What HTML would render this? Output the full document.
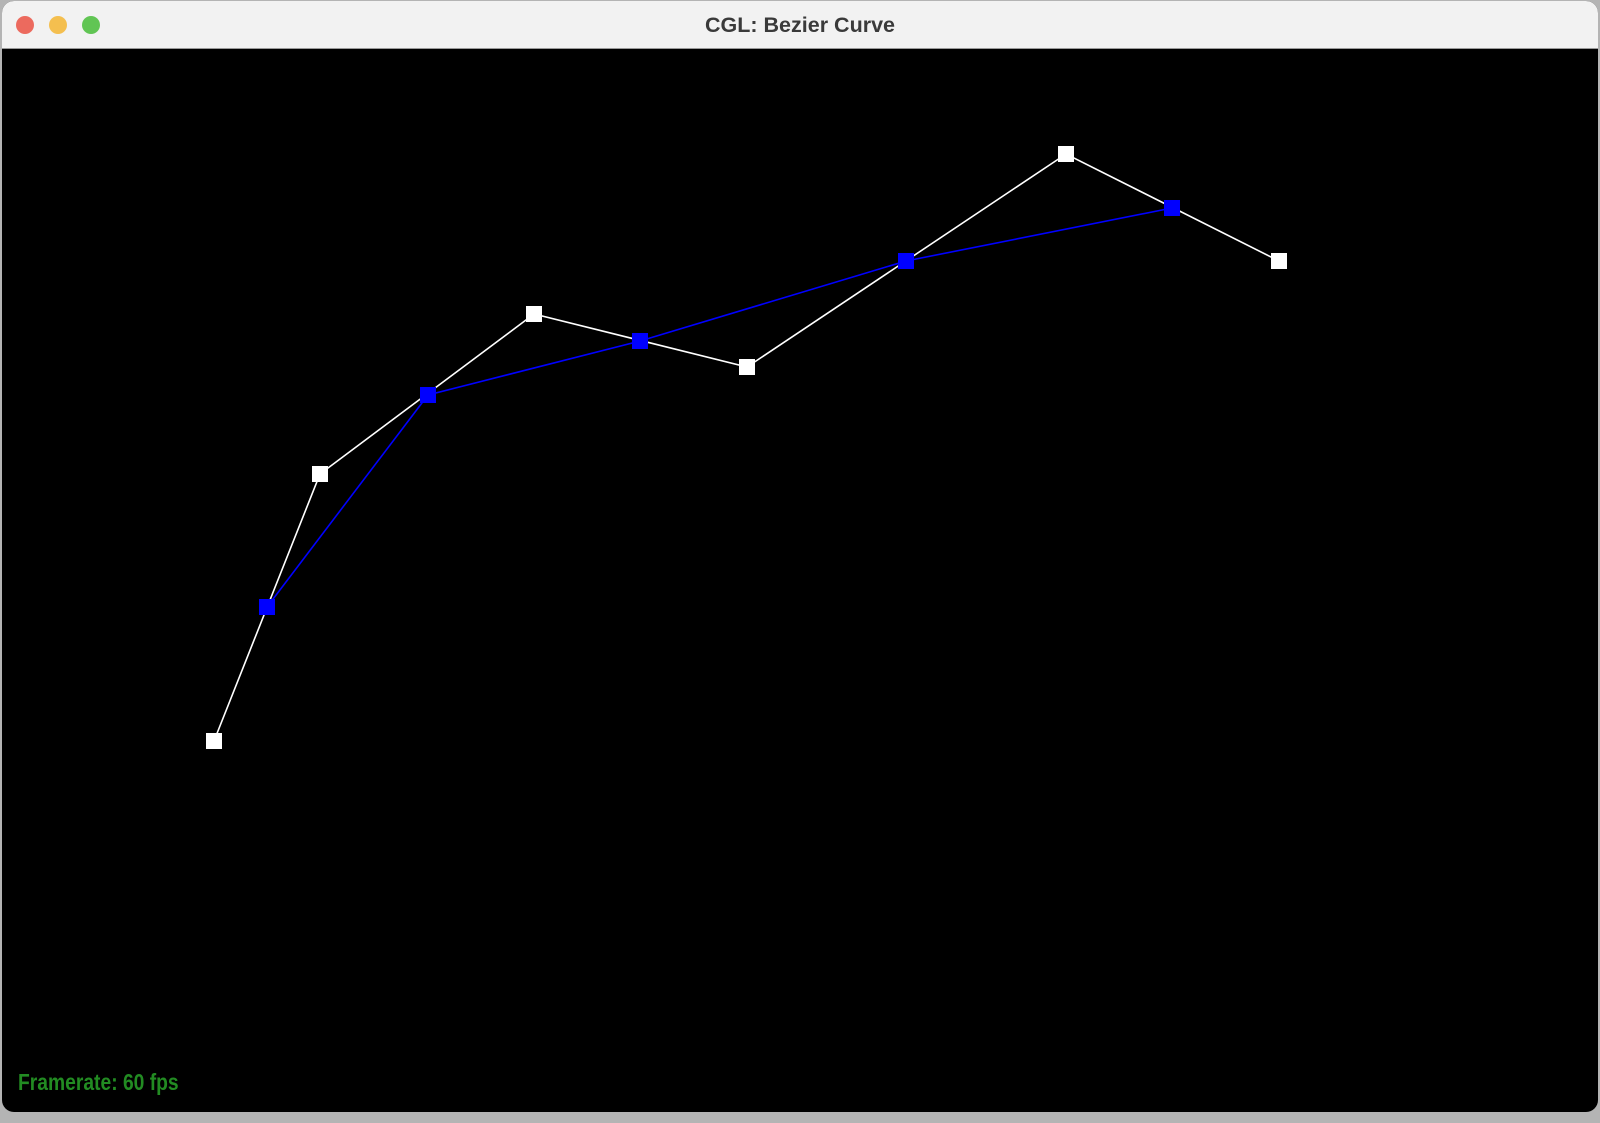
<!DOCTYPE html>
<html><head><meta charset="utf-8"><style>
html,body{margin:0;padding:0;width:1600px;height:1123px;overflow:hidden;background:#b4b4b4;font-family:"Liberation Sans",sans-serif}
#win{position:absolute;left:2px;top:1px;width:1596px;height:1111px;border-radius:12px;overflow:hidden;background:#000}
#bar{position:absolute;left:0;top:0;width:100%;height:47px;background:#f2f2f2;border-bottom:1px solid #999}
#title{position:absolute;left:0;right:0;top:12px;text-align:center;font-weight:bold;font-size:21.5px;color:#3a3a3a}
.dot{position:absolute;top:15px;width:18px;height:18px;border-radius:50%}
#fps{position:absolute;left:16px;top:1068px;color:#228b22;font-weight:bold;font-size:23.5px;transform:scaleX(0.82);transform-origin:left}
</style></head><body>
<div id="win">
<div id="bar">
<div class="dot" style="left:14px;background:#ec6a5e"></div>
<div class="dot" style="left:47px;background:#f4bf4f"></div>
<div class="dot" style="left:80px;background:#61c554"></div>
<div id="title">CGL: Bezier Curve</div>
</div>
<svg id="plot" width="1596" height="1111" style="position:absolute;left:0;top:0"></svg>
<div id="fps">Framerate: 60 fps</div>
</div>
<script>
const controlX=[214,320,534,747,1066,1279];
const controlY=[741,474,314,367,154,261];
const levelX=[267,428,640,906,1172];
const levelY=[607,395,341,261,208];
const NS="http://www.w3.org/2000/svg";
const svg=document.getElementById('plot');
const ox=-2, oy=-1;
function sx(v){return v+ox;} function sy(v){return v+oy;}
function drawSeries(xs,ys,color,name){
  const pl=document.createElementNS(NS,'polyline');
  pl.setAttribute('points',xs.map((x,i)=>sx(x)+','+sy(ys[i])).join(' '));
  pl.setAttribute('fill','none');pl.setAttribute('stroke',color);pl.setAttribute('stroke-width','1.6');
  
  
  svg.appendChild(pl);
  xs.forEach((x,i)=>{
    const r=document.createElementNS(NS,'rect');
    r.setAttribute('x',sx(x)-8);r.setAttribute('y',sy(ys[i])-8);
    r.setAttribute('width',16);r.setAttribute('height',16);r.setAttribute('fill',color);
    
    
    svg.appendChild(r);
  });
}
drawSeries(controlX,controlY,'#ffffff','control');
drawSeries(levelX,levelY,'#0000ff','subdivision');
</script>
</body></html>
